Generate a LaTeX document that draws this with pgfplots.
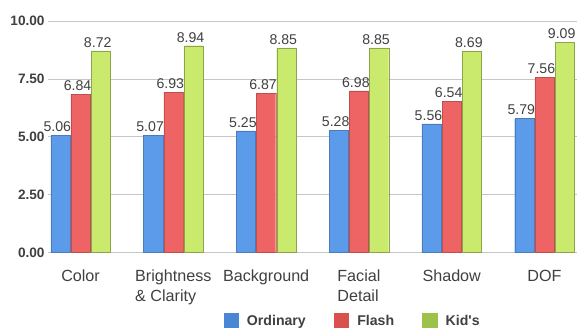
\documentclass[border=0pt]{standalone}
\usepackage{pgfplots}
\pgfplotsset{compat=1.18}
\usepackage{fontspec}
\setmainfont{Liberation Sans}[Ligatures=TeXOff]
\definecolor{cblue}{HTML}{5C9BEA}
\definecolor{cred}{HTML}{EE6363}
\definecolor{cgreen}{HTML}{C9EA6C}
\definecolor{lblue}{HTML}{4A86D6}
\definecolor{lred}{HTML}{D9504F}
\definecolor{lgreen}{HTML}{9CC24C}
\definecolor{txt}{HTML}{404040}
\begin{document}
\begin{tikzpicture}
\begin{axis}[
  scale only axis,
  width=524pt, height=229pt,
  ybar=1pt, bar width=19pt,
  ymin=0, ymax=10,
  xmin=-0.35, xmax=5.35,
  ytick={0,2.5,5,7.5,10},
  xtick={0,1,2,3,4,5},
  xticklabels={Color,{Brightness\\\& Clarity},Background,{Facial\\Detail},Shadow,DOF},
  xticklabel style={align=left, font=\fontsize{16}{20}\selectfont, text=txt, yshift=-14pt},
  yticklabel style={font=\fontsize{13.5}{15}\selectfont\bfseries, text=txt, /pgf/number format/.cd, fixed, fixed zerofill, precision=2, assume math mode=true},
  major tick length=0pt,
  axis line style={draw=none},
  ymajorgrids,
  grid style={gray!45, line width=0.8pt},
  nodes near coords,
  nodes near coords style={font=\fontsize{14}{16}\selectfont, text=txt, xshift=-3pt, /pgf/number format/.cd, fixed, fixed zerofill, precision=2, assume math mode=true},
  legend style={draw=none, at={(axis description cs:0.576,0)}, anchor=center, yshift=-68pt, legend columns=3, font=\fontsize{14}{16}\selectfont\bfseries, text=txt, /tikz/every even column/.append style={column sep=26pt}},
]
\addplot[draw=cblue!80!black, line width=0.3pt, fill=cblue,
  legend image code/.code={\fill[lblue, draw=none] (0pt,-7pt) rectangle (15pt,8pt); \path[draw=none, fill=none] (15pt,0) -- (21pt,0);}]
  coordinates {(0,5.06) (1,5.07) (2,5.25) (3,5.28) (4,5.56) (5,5.79)};
\addplot[draw=cred!80!black, line width=0.3pt, fill=cred,
  legend image code/.code={\fill[lred, draw=none] (0pt,-7pt) rectangle (15pt,8pt); \path[draw=none, fill=none] (15pt,0) -- (21pt,0);}]
  coordinates {(0,6.84) (1,6.93) (2,6.87) (3,6.98) (4,6.54) (5,7.56)};
\addplot[draw=cgreen!70!black, line width=0.3pt, fill=cgreen,
  legend image code/.code={\fill[lgreen, draw=none] (0pt,-7pt) rectangle (15pt,8pt); \path[draw=none, fill=none] (15pt,0) -- (21pt,0);}]
  coordinates {(0,8.72) (1,8.94) (2,8.85) (3,8.85) (4,8.69) (5,9.09)};
\legend{Ordinary,Flash,Kid's}
\end{axis}
\path (current axis.north) -- ++(0,21pt);
\path (current axis.outer west) -- ++(-7pt,0);
\path (current axis.east) -- ++(5pt,0);
\end{tikzpicture}
\end{document}
